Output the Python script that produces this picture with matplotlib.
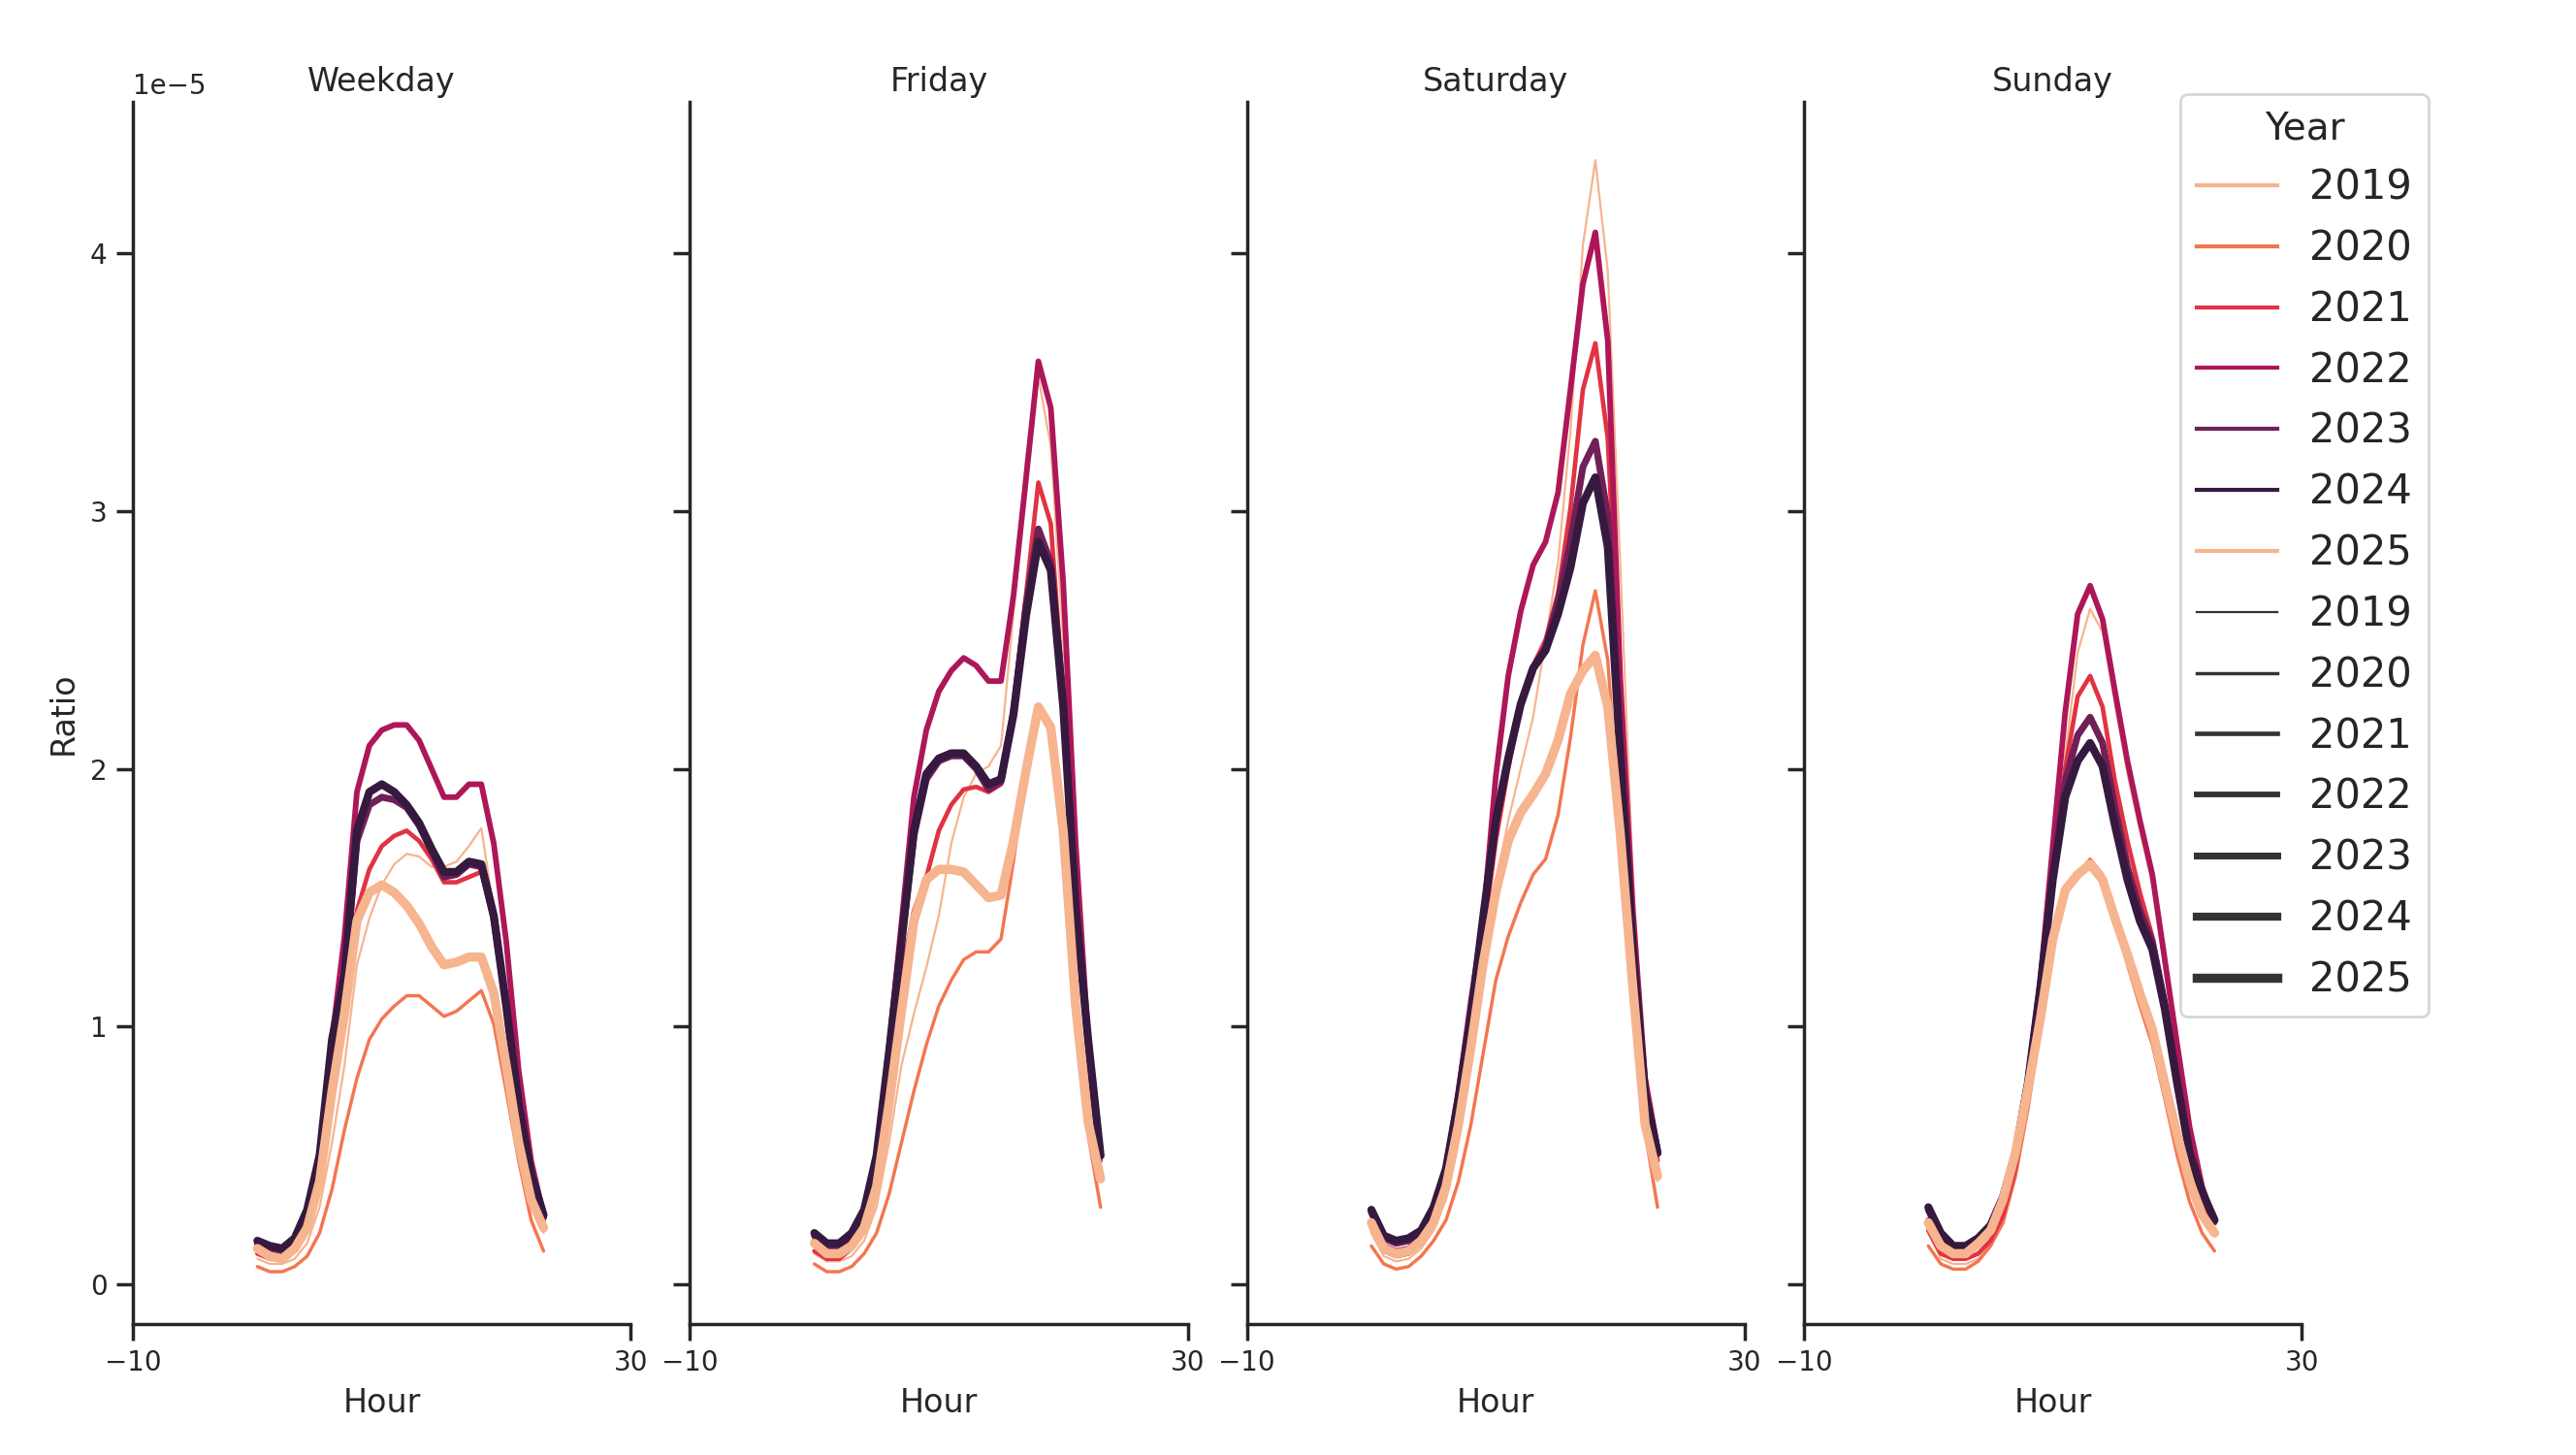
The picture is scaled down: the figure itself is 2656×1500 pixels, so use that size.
"""
Hourly ratio profiles per year, one panel per day type.
"""
import matplotlib
matplotlib.use('Agg')
import matplotlib.pyplot as plt
import matplotlib.lines as mlines
import numpy as np

HOURS = list(range(24))
YEARS = [2019, 2020, 2021, 2022, 2023, 2024, 2025]
DAY_TYPES = ['Weekday', 'Friday', 'Saturday', 'Sunday']
SCALE = 1e-5   # values below are in units of 1e-5

# rocket_r, 6 colours, cycled for the 7th year
PALETTE = ['#f6b48f', '#f37651', '#e13342', '#ad1759', '#701f57', '#35193e']

weekday = {
    2019: [0.10, 0.08, 0.08, 0.10, 0.16, 0.30, 0.55, 0.85, 1.24, 1.42, 1.55, 1.63,
           1.67, 1.66, 1.62, 1.62, 1.64, 1.70, 1.77, 1.45, 1.05, 0.62, 0.35, 0.20],
    2020: [0.07, 0.05, 0.05, 0.07, 0.11, 0.20, 0.37, 0.60, 0.80, 0.95, 1.03, 1.08,
           1.12, 1.12, 1.08, 1.04, 1.06, 1.10, 1.14, 1.01, 0.75, 0.48, 0.25, 0.13],
    2021: [0.12, 0.10, 0.10, 0.13, 0.24, 0.44, 0.80, 1.10, 1.45, 1.61, 1.70, 1.74,
           1.76, 1.72, 1.65, 1.56, 1.56, 1.58, 1.60, 1.42, 1.06, 0.68, 0.41, 0.24],
    2022: [0.15, 0.12, 0.12, 0.16, 0.27, 0.52, 0.95, 1.35, 1.91, 2.09, 2.15, 2.17,
           2.17, 2.11, 2.00, 1.89, 1.89, 1.94, 1.94, 1.71, 1.33, 0.83, 0.48, 0.27],
    2023: [0.16, 0.13, 0.13, 0.17, 0.28, 0.49, 0.92, 1.18, 1.72, 1.86, 1.89, 1.88,
           1.85, 1.78, 1.68, 1.58, 1.59, 1.63, 1.62, 1.42, 1.08, 0.70, 0.43, 0.26],
    2024: [0.17, 0.15, 0.14, 0.18, 0.29, 0.50, 0.95, 1.20, 1.76, 1.91, 1.94, 1.91,
           1.86, 1.79, 1.69, 1.60, 1.60, 1.64, 1.63, 1.43, 1.08, 0.70, 0.43, 0.27],
    2025: [0.14, 0.11, 0.10, 0.14, 0.22, 0.40, 0.75, 1.05, 1.41, 1.52, 1.55, 1.52,
           1.47, 1.40, 1.31, 1.24, 1.25, 1.27, 1.27, 1.13, 0.85, 0.55, 0.33, 0.22],
}

friday = {
    2019: [0.12, 0.09, 0.09, 0.11, 0.17, 0.30, 0.55, 0.85, 1.05, 1.23, 1.43, 1.71,
           1.89, 1.98, 2.01, 2.09, 2.60, 3.20, 3.52, 3.25, 2.50, 1.45, 0.80, 0.43],
    2020: [0.08, 0.05, 0.05, 0.07, 0.12, 0.20, 0.35, 0.55, 0.75, 0.93, 1.08, 1.18,
           1.26, 1.29, 1.29, 1.34, 1.64, 1.99, 2.23, 2.14, 1.71, 1.08, 0.58, 0.30],
    2021: [0.13, 0.10, 0.10, 0.14, 0.24, 0.44, 0.80, 1.20, 1.45, 1.58, 1.76, 1.86,
           1.92, 1.93, 1.91, 1.94, 2.24, 2.67, 3.11, 2.95, 2.29, 1.43, 0.93, 0.48],
    2022: [0.17, 0.13, 0.13, 0.17, 0.28, 0.50, 0.92, 1.40, 1.89, 2.15, 2.30, 2.38,
           2.43, 2.40, 2.34, 2.34, 2.67, 3.12, 3.58, 3.40, 2.72, 1.71, 0.95, 0.50],
    2023: [0.19, 0.15, 0.15, 0.19, 0.28, 0.49, 0.90, 1.32, 1.74, 1.96, 2.03, 2.05,
           2.05, 2.00, 1.92, 1.95, 2.22, 2.63, 2.93, 2.80, 2.26, 1.47, 0.95, 0.50],
    2024: [0.20, 0.16, 0.16, 0.20, 0.29, 0.50, 0.90, 1.33, 1.76, 1.98, 2.04, 2.06,
           2.06, 2.01, 1.94, 1.96, 2.21, 2.59, 2.88, 2.77, 2.24, 1.46, 0.95, 0.50],
    2025: [0.16, 0.12, 0.12, 0.15, 0.22, 0.38, 0.70, 1.06, 1.41, 1.57, 1.61, 1.61,
           1.60, 1.55, 1.50, 1.51, 1.72, 1.99, 2.24, 2.16, 1.76, 1.08, 0.63, 0.41],
}

saturday = {
    2019: [0.20, 0.11, 0.09, 0.10, 0.14, 0.21, 0.33, 0.55, 0.85, 1.20, 1.55, 1.80,
           2.00, 2.20, 2.50, 2.80, 3.31, 4.03, 4.36, 3.93, 2.80, 1.60, 0.80, 0.40],
    2020: [0.15, 0.08, 0.06, 0.07, 0.11, 0.17, 0.25, 0.40, 0.62, 0.90, 1.18, 1.35,
           1.48, 1.59, 1.65, 1.82, 2.12, 2.48, 2.69, 2.42, 1.76, 1.16, 0.59, 0.30],
    2021: [0.22, 0.13, 0.11, 0.12, 0.16, 0.24, 0.38, 0.63, 0.95, 1.35, 1.72, 2.00,
           2.24, 2.40, 2.50, 2.68, 3.01, 3.47, 3.65, 3.28, 2.30, 1.40, 0.78, 0.48],
    2022: [0.24, 0.15, 0.13, 0.14, 0.19, 0.28, 0.45, 0.75, 1.10, 1.42, 1.97, 2.36,
           2.61, 2.79, 2.88, 3.07, 3.47, 3.88, 4.08, 3.66, 2.35, 1.46, 0.80, 0.53],
    2023: [0.28, 0.18, 0.16, 0.17, 0.20, 0.29, 0.44, 0.71, 1.03, 1.42, 1.79, 2.04,
           2.25, 2.39, 2.47, 2.65, 2.88, 3.17, 3.27, 2.98, 2.10, 1.33, 0.75, 0.52],
    2024: [0.29, 0.19, 0.17, 0.18, 0.21, 0.30, 0.45, 0.72, 1.04, 1.43, 1.80, 2.04,
           2.25, 2.39, 2.46, 2.60, 2.78, 3.03, 3.13, 2.86, 2.05, 1.31, 0.74, 0.51],
    2025: [0.24, 0.14, 0.12, 0.13, 0.17, 0.24, 0.38, 0.62, 0.92, 1.25, 1.52, 1.72,
           1.83, 1.90, 1.98, 2.11, 2.29, 2.38, 2.44, 2.24, 1.75, 1.16, 0.62, 0.42],
}

sunday = {
    2019: [0.20, 0.10, 0.08, 0.08, 0.10, 0.15, 0.25, 0.42, 0.70, 1.08, 1.55, 2.05,
           2.45, 2.62, 2.53, 2.25, 1.98, 1.76, 1.55, 1.22, 0.88, 0.57, 0.34, 0.20],
    2020: [0.15, 0.08, 0.06, 0.06, 0.09, 0.15, 0.24, 0.42, 0.68, 0.99, 1.38, 1.53,
           1.59, 1.65, 1.59, 1.42, 1.24, 1.08, 0.93, 0.72, 0.50, 0.32, 0.20, 0.13],
    2021: [0.21, 0.12, 0.10, 0.10, 0.12, 0.17, 0.27, 0.45, 0.73, 1.12, 1.62, 2.00,
           2.28, 2.36, 2.24, 1.95, 1.72, 1.52, 1.35, 1.10, 0.78, 0.50, 0.33, 0.20],
    2022: [0.25, 0.16, 0.13, 0.13, 0.16, 0.22, 0.34, 0.52, 0.80, 1.18, 1.70, 2.22,
           2.60, 2.71, 2.58, 2.30, 2.03, 1.80, 1.59, 1.26, 0.93, 0.61, 0.38, 0.24],
    2023: [0.29, 0.19, 0.15, 0.15, 0.18, 0.23, 0.34, 0.51, 0.78, 1.15, 1.60, 1.95,
           2.13, 2.20, 2.10, 1.85, 1.62, 1.45, 1.33, 1.09, 0.78, 0.51, 0.36, 0.25],
    2024: [0.30, 0.20, 0.15, 0.15, 0.18, 0.23, 0.34, 0.51, 0.78, 1.15, 1.57, 1.89,
           2.03, 2.10, 2.01, 1.78, 1.57, 1.41, 1.30, 1.07, 0.78, 0.51, 0.36, 0.25],
    2025: [0.24, 0.15, 0.12, 0.12, 0.16, 0.21, 0.33, 0.51, 0.76, 1.03, 1.34, 1.53,
           1.59, 1.63, 1.57, 1.42, 1.28, 1.13, 0.99, 0.78, 0.58, 0.40, 0.27, 0.20],
}

PANELS = [weekday, friday, saturday, sunday]

INK = '#262626'
LW_MIN, LW_MAX = 0.8, 3.4


def year_color(i):
    return PALETTE[i % len(PALETTE)]


def year_width(year):
    frac = (year - YEARS[0]) / (YEARS[-1] - YEARS[0])
    return LW_MIN + frac * (LW_MAX - LW_MIN)


plt.rcParams.update({
    'font.family': 'DejaVu Sans',
    'text.color': INK,
    'axes.labelcolor': INK,
    'axes.edgecolor': INK,
    'axes.linewidth': 1.25,
    'xtick.color': INK,
    'ytick.color': INK,
    'xtick.major.width': 1.25,
    'ytick.major.width': 1.25,
    'xtick.major.size': 6,
    'ytick.major.size': 6,
    'xtick.labelsize': 10,
    'ytick.labelsize': 10,
})

fig, axes = plt.subplots(1, 4, figsize=(13.28, 7.5), dpi=200, sharey=True)
fig.subplots_adjust(left=0.0516, right=0.8935, bottom=0.09, top=0.93,
                    wspace=0.119)

for ax, name, data in zip(axes, DAY_TYPES, PANELS):
    for i, year in enumerate(YEARS):
        ax.plot(HOURS, np.array(data[year]) * SCALE, color=year_color(i),
                linewidth=year_width(year), solid_capstyle='round', zorder=2 + i)
    ax.set_title(name, fontsize=12, pad=4)
    ax.set_xlabel('Hour', fontsize=12)
    ax.set_xlim(-10, 30)
    ax.set_xticks([-10, 30])
    for side in ('top', 'right'):
        ax.spines[side].set_visible(False)

axes[0].set_ylim(-0.153e-5, 4.586e-5)
axes[0].set_yticks(np.arange(0, 5) * 1e-5)
axes[0].set_ylabel('Ratio', fontsize=12)
axes[0].yaxis.get_offset_text().set_fontsize(10)

handles = []
for i, year in enumerate(YEARS):
    handles.append(mlines.Line2D([], [], color=year_color(i), linewidth=1.5,
                                 label=str(year)))
for year in YEARS:
    handles.append(mlines.Line2D([], [], color='#333333',
                                 linewidth=year_width(year), label=str(year)))

leg = fig.legend(handles=handles, title='Year', loc='upper left',
                 bbox_to_anchor=(0.8464, 0.9353), borderaxespad=0,
                 fontsize=15, title_fontsize=14, handlelength=2.0,
                 labelspacing=0.5, frameon=True, framealpha=0.8,
                 edgecolor='#cccccc')

fig.savefig('out.png', dpi=200)
plt.close(fig)
